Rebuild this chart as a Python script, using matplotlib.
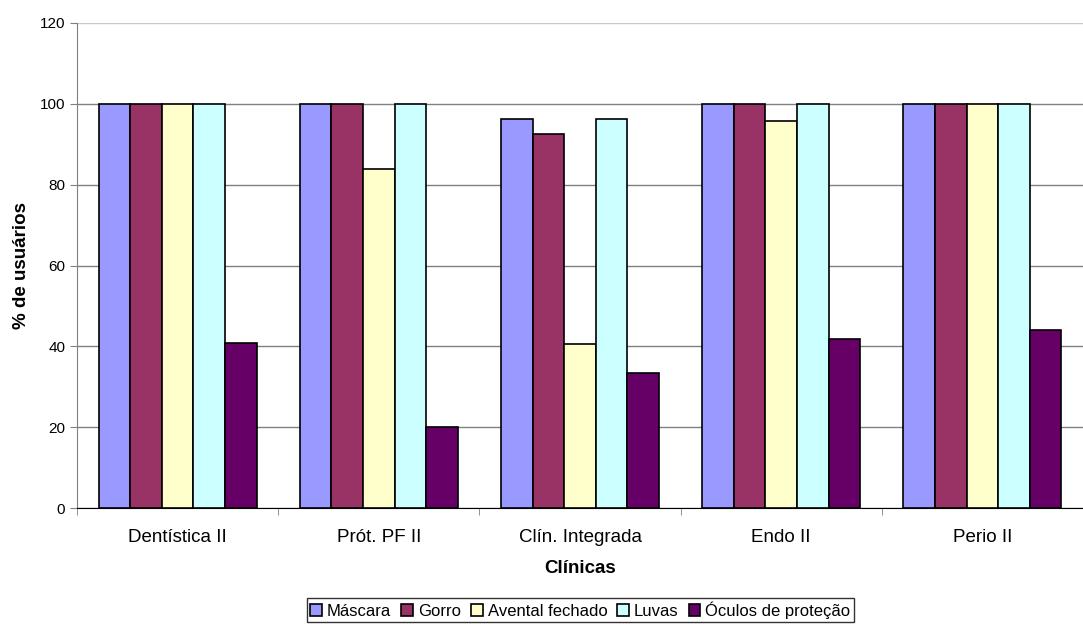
import numpy as np
import matplotlib.pyplot as plt

plt.rcParams['font.family'] = ['Liberation Sans', 'DejaVu Sans']

clinicas = ["Dentística II", "Prót. PF II", "Clín. Integrada", "Endo II", "Perio II"]
mascara = [100, 100, 96.3, 100, 100]
gorro = [100, 100, 92.6, 100, 100]
avental = [100, 84, 40.7, 95.8, 100]
luvas = [100, 100, 96.3, 100, 100]
oculos = [40.9, 20, 33.3, 41.7, 44]

series = [("Máscara", mascara, "#9999FF"),
          ("Gorro", gorro, "#993366"),
          ("Avental fechado", avental, "#FFFFCC"),
          ("Luvas", luvas, "#CCFFFF"),
          ("Óculos de proteção", oculos, "#660066")]

fig = plt.figure(figsize=(10.83, 6.28), dpi=100)
ax = fig.add_axes([0.0711, 0.191, 0.9289, 0.7724])

x = np.arange(len(clinicas))
w = 0.157
for i, (nome, vals, cor) in enumerate(series):
    ax.bar(x + (i - 2) * w, vals, w, color=cor, edgecolor="black",
           linewidth=1.2, label=nome, zorder=3)

ax.set_ylim(0, 120)
ax.set_xlim(-0.5, len(clinicas) - 0.5)
ax.set_yticks(range(0, 121, 20))
ax.yaxis.grid(True, color="#808080", linewidth=1, zorder=0)
# linha do topo (120) mais clara
ax.get_ygridlines()[-1].set_color("#c8c8c8")
ax.set_xticks(x)
ax.set_xticklabels(clinicas, fontsize=13.5)
ax.set_xticks(np.arange(-0.5, len(clinicas), 1), minor=True)
ax.tick_params(axis="x", which="major", length=0, pad=15)
ax.tick_params(axis="x", which="minor", length=5, color="#808080")
ax.tick_params(axis="y", length=5, color="#808080", labelsize=11)

for s in ["top", "right"]:
    ax.spines[s].set_visible(False)
ax.spines["left"].set_color("#808080")
ax.spines["bottom"].set_color("black")

ax.set_xlabel("Clínicas", fontsize=13.5, fontweight="bold", labelpad=10)
ax.set_ylabel("% de usuários", fontsize=13.5, fontweight="bold", labelpad=7)

leg = fig.legend(loc="center", bbox_to_anchor=(0.536, 0.028), ncol=5,
                 fontsize=12, frameon=True, fancybox=False,
                 handlelength=0.7, handleheight=0.7, handletextpad=0.3,
                 columnspacing=0.6, borderpad=0.2, borderaxespad=0)
leg.get_frame().set_edgecolor("black")
leg.get_frame().set_linewidth(1)

fig.savefig("out.png", dpi=100)
